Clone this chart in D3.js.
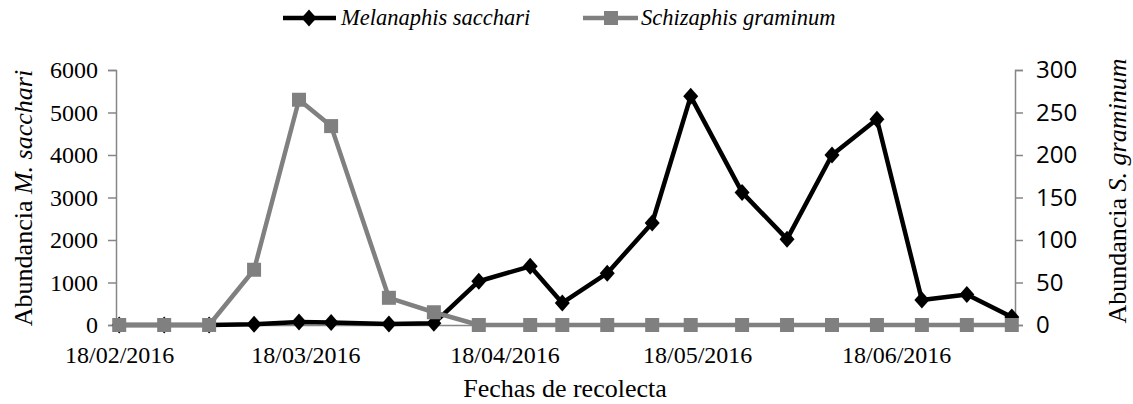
<!DOCTYPE html>
<html>
<head>
<meta charset="utf-8">
<script src="https://cdn.jsdelivr.net/npm/d3@7/dist/d3.min.js"></script>
<style>
  html, body { margin: 0; padding: 0; background: #fff; }
  svg { display: block; }
</style>
</head>
<body>
<svg id="chart" width="1133" height="404"></svg>
<script>
// ---- Data ----
const dates = ["2016-02-18","2016-02-25","2016-03-03","2016-03-10","2016-03-17","2016-03-22",
  "2016-03-31","2016-04-07","2016-04-14","2016-04-22","2016-04-27","2016-05-04","2016-05-11",
  "2016-05-17","2016-05-25","2016-06-01","2016-06-08","2016-06-15","2016-06-22","2016-06-29","2016-07-06"];
const melanaphis = [0, 0, 0, 20, 70, 60, 25, 40, 1030, 1380, 520, 1220, 2400, 5380, 3120, 2020, 4000, 4840, 590, 720, 190];
const schizaphis = [0, 0, 0, 65, 265, 234, 32, 15, 0, 0, 0, 0, 0, 0, 0, 0, 0, 0, 0, 0, 0];
const xTickDates = ["2016-02-18","2016-03-18","2016-04-18","2016-05-18","2016-06-18"];
const xTickLabels = ["18/02/2016","18/03/2016","18/04/2016","18/05/2016","18/06/2016"];
const leftTicks = [0, 1000, 2000, 3000, 4000, 5000, 6000];
const rightTicks = [0, 50, 100, 150, 200, 250, 300];
const seriesNames = ["Melanaphis sacchari", "Schizaphis graminum"];

// ---- Layout ----
const svg = d3.select("#chart");
const plotLeft = 116, plotRight = 1015, plotTop = 70, plotBottom = 325;
const axisColor = "#868686";
const serif = "'Liberation Serif','Times New Roman',serif";
const sans = "'Open Sans','Liberation Sans',sans-serif";

const parse = d3.utcParse("%Y-%m-%d");
const x = d3.scaleUtc()
  .domain([new Date(Date.UTC(2016,1,17,12)), new Date(Date.UTC(2016,6,6,12))])
  .range([plotLeft, plotRight]);
const yL = d3.scaleLinear().domain([0, 6000]).range([plotBottom, plotTop]);
const yR = d3.scaleLinear().domain([0, 300]).range([plotBottom, plotTop]);

// X axis (line only + labels)
const xAxis = d3.axisBottom(x)
  .tickValues(xTickDates.map(parse))
  .tickFormat((d, i) => xTickLabels[i])
  .tickSize(0).tickPadding(21);
const gx = svg.append("g").attr("transform", `translate(0,${plotBottom})`).call(xAxis);
gx.select(".domain").attr("stroke", axisColor).attr("stroke-width", 1.5);
gx.selectAll("text").attr("font-family", serif).attr("font-size", 24).attr("fill", "#000");

// Left axis
const gl = svg.append("g").attr("transform", `translate(${plotLeft},0)`)
  .call(d3.axisLeft(yL).tickValues(leftTicks).tickFormat(d3.format("d"))
    .tickSize(8).tickPadding(10).tickSizeOuter(8));
gl.select(".domain").attr("stroke", axisColor).attr("stroke-width", 1.5);
gl.selectAll(".tick line").attr("stroke", axisColor).attr("stroke-width", 1.5);
gl.selectAll("text").attr("font-family", serif).attr("font-size", 24).attr("fill", "#000");

// Right axis
const gr = svg.append("g").attr("transform", `translate(${plotRight},0)`)
  .call(d3.axisRight(yR).tickValues(rightTicks).tickFormat(d3.format("d"))
    .tickSize(8).tickPadding(13).tickSizeOuter(8));
gr.select(".domain").attr("stroke", axisColor).attr("stroke-width", 1.5);
gr.selectAll(".tick line").attr("stroke", axisColor).attr("stroke-width", 1.5);
gr.selectAll("text").attr("font-family", sans).attr("font-size", 24).attr("fill", "#000");

// Series data
const mData = dates.map((d, i) => ({ date: parse(d), v: melanaphis[i] }));
const sData = dates.map((d, i) => ({ date: parse(d), v: schizaphis[i] }));

const diamond = (cx, cy) => `M${cx},${cy-8.5}L${cx+7.5},${cy}L${cx},${cy+8.5}L${cx-7.5},${cy}Z`;

// Melanaphis (black, left axis)
svg.append("path").datum(mData)
  .attr("fill", "none").attr("stroke", "#000").attr("stroke-width", 4.5)
  .attr("stroke-linejoin", "round")
  .attr("d", d3.line().x(d => x(d.date)).y(d => yL(d.v)));
svg.append("g").selectAll("path").data(mData).join("path")
  .attr("d", d => diamond(x(d.date), yL(d.v))).attr("fill", "#000");

// Schizaphis (gray, right axis)
svg.append("path").datum(sData)
  .attr("fill", "none").attr("stroke", "#808080").attr("stroke-width", 4.5)
  .attr("stroke-linejoin", "round")
  .attr("d", d3.line().x(d => x(d.date)).y(d => yR(d.v)));
svg.append("g").selectAll("rect").data(sData).join("rect")
  .attr("x", d => x(d.date) - 7).attr("y", d => yR(d.v) - 7)
  .attr("width", 14).attr("height", 14).attr("fill", "#808080");

// Axis titles
svg.append("text")
  .attr("transform", `translate(32,198) rotate(-90)`)
  .attr("text-anchor", "middle").attr("font-family", serif).attr("font-size", 26)
  .html('Abundancia <tspan font-style="italic">M. sacchari</tspan>');
svg.append("text")
  .attr("transform", `translate(1126,191) rotate(-90)`)
  .attr("text-anchor", "middle").attr("font-family", serif).attr("font-size", 26)
  .html('Abundancia <tspan font-style="italic">S. graminum</tspan>');
svg.append("text")
  .attr("x", 565).attr("y", 397)
  .attr("text-anchor", "middle").attr("font-family", serif).attr("font-size", 26)
  .text("Fechas de recolecta");

// Legend
const lg = svg.append("g");
lg.append("line").attr("x1", 283).attr("x2", 336).attr("y1", 18).attr("y2", 18)
  .attr("stroke", "#000").attr("stroke-width", 4.5);
lg.append("path").attr("d", diamond(309, 18)).attr("fill", "#000");
lg.append("text").attr("x", 341).attr("y", 25).attr("font-family", serif)
  .attr("font-size", 22.5).attr("font-style", "italic").text(seriesNames[0]);
lg.append("line").attr("x1", 583).attr("x2", 638).attr("y1", 18).attr("y2", 18)
  .attr("stroke", "#808080").attr("stroke-width", 4.5);
lg.append("rect").attr("x", 604).attr("y", 11).attr("width", 14).attr("height", 14).attr("fill", "#808080");
lg.append("text").attr("x", 641).attr("y", 25).attr("font-family", serif)
  .attr("font-size", 22.5).attr("font-style", "italic").text(seriesNames[1]);
</script>
</body>
</html>
